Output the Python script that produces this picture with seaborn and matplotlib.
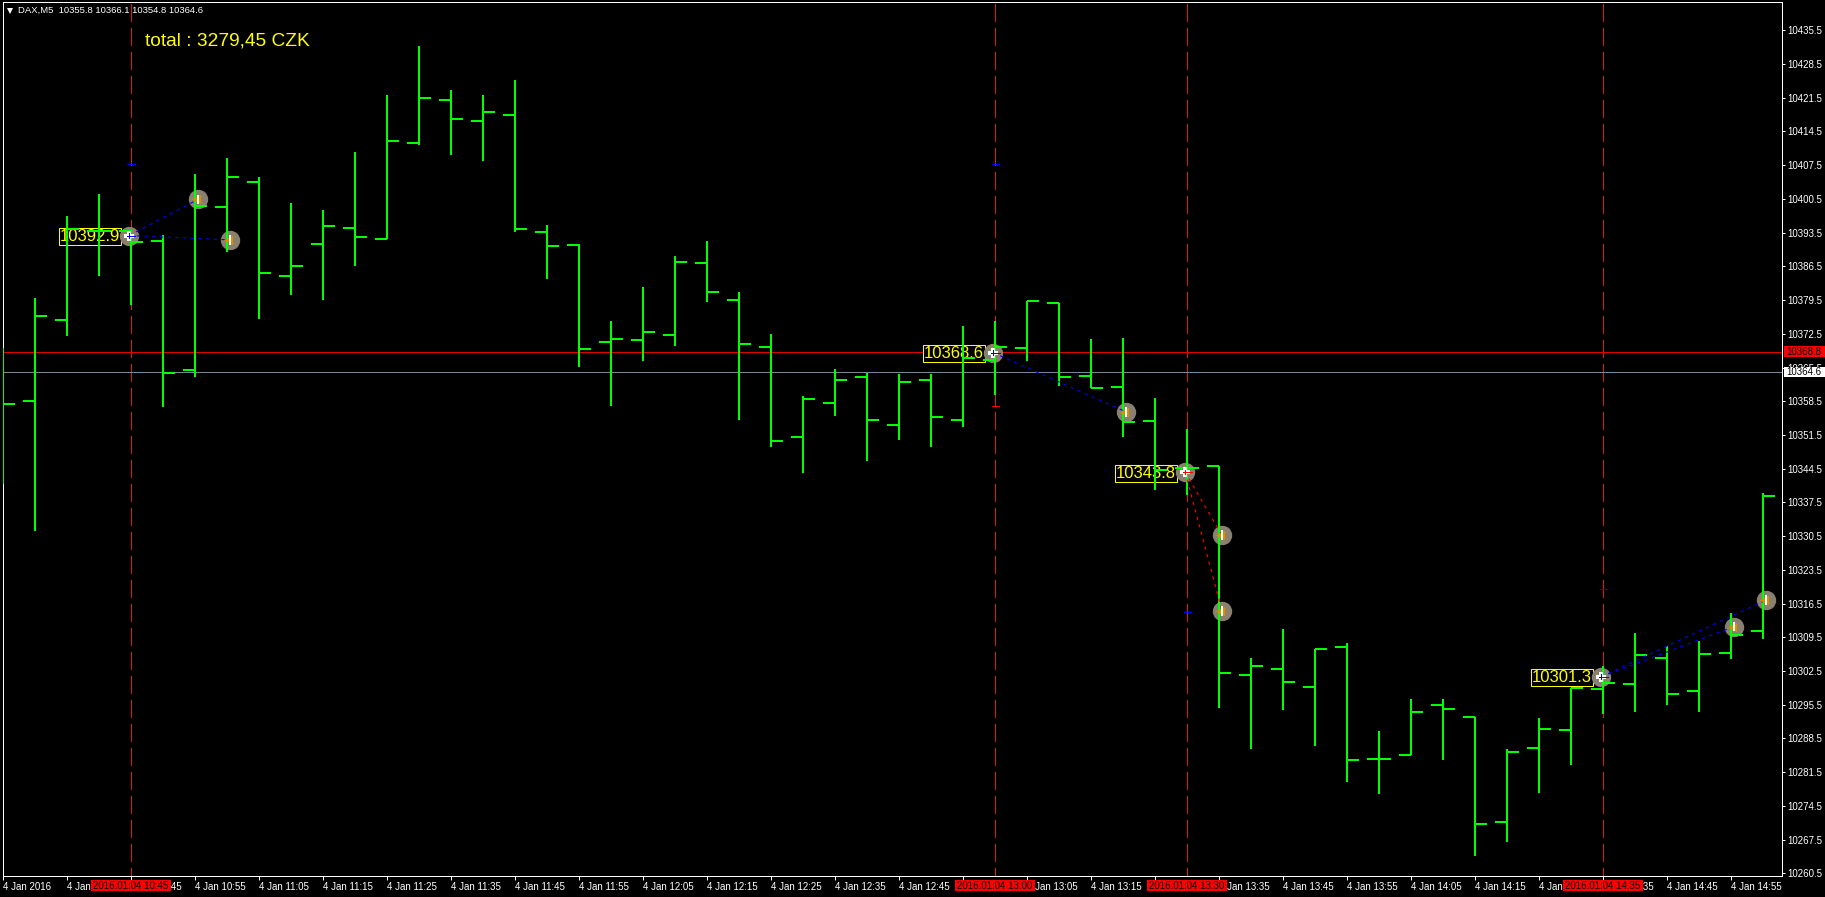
#!/usr/bin/env python
import warnings
warnings.simplefilter(action='ignore')
import pandas as pd
import seaborn as sns
from matplotlib import pyplot as plt
from matplotlib.patches import Rectangle

# five minute bars, 10:25 to 15:00
opens = [10358.0, 10358.5, 10375.4, 10393.8, 10393.9, 10391.8, 10365.0, 10398.8, 10404.0, 10384.4,
         10391.1, 10394.5, 10392.2, 10412.1, 10421.0, 10416.7, 10417.9, 10393.6, 10390.9, 10370.7,
         10371.2, 10372.3, 10387.1, 10379.5, 10369.8, 10351.1, 10358.1, 10363.5, 10353.6, 10362.9,
         10354.6, 10367.1, 10369.6, 10378.8, 10363.8, 10361.5, 10354.4, 10344.6, 10345.0, 10301.7,
         10302.9, 10299.2, 10307.5, 10284.2, 10285.1, 10295.4, 10293.0, 10271.2, 10286.6, 10290.3,
         10298.8, 10299.8, 10305.2, 10298.4, 10306.3, 10310.9]
highs = [10369.6, 10379.9, 10396.9, 10401.5, 10394.0, 10393.0, 10405.7, 10409.1, 10405.1, 10399.7,
         10398.2, 10410.2, 10422.0, 10432.2, 10423.1, 10422.1, 10425.2, 10395.1, 10391.1, 10375.2,
         10382.2, 10388.6, 10391.7, 10381.1, 10372.4, 10359.5, 10365.1, 10364.4, 10364.1, 10364.1,
         10374.1, 10375.2, 10379.4, 10378.8, 10371.4, 10371.6, 10359.1, 10352.7, 10345.0, 10305.1,
         10311.2, 10307.1, 10308.3, 10290.0, 10296.6, 10296.6, 10293.0, 10286.4, 10292.7, 10299.0,
         10303.5, 10310.3, 10307.7, 10308.7, 10314.5, 10339.4]
lows = [10341.3, 10331.6, 10372.0, 10384.6, 10378.5, 10357.4, 10363.6, 10389.5, 10375.6, 10380.6,
        10379.6, 10386.6, 10392.2, 10411.6, 10409.6, 10408.4, 10393.6, 10383.9, 10365.7, 10357.6,
        10366.9, 10370.0, 10379.0, 10354.7, 10349.1, 10343.5, 10355.5, 10346.0, 10350.5, 10349.1,
        10353.2, 10359.7, 10366.9, 10361.7, 10361.3, 10351.0, 10340.1, 10339.0, 10294.8, 10286.4,
        10294.5, 10287.0, 10279.5, 10277.0, 10285.1, 10284.1, 10264.1, 10266.9, 10277.2, 10283.0,
        10293.6, 10294.0, 10295.5, 10294.0, 10305.0, 10309.2]
closes = [10358.0, 10376.2, 10394.3, 10393.8, 10391.6, 10364.4, 10399.0, 10405.1, 10385.1, 10386.6,
          10394.9, 10392.6, 10412.5, 10421.5, 10417.1, 10418.5, 10394.3, 10390.7, 10369.3, 10371.5,
          10372.9, 10387.4, 10381.2, 10370.4, 10350.3, 10359.0, 10362.9, 10354.6, 10362.5, 10355.2,
          10367.5, 10369.8, 10379.4, 10363.6, 10361.3, 10354.2, 10344.2, 10344.6, 10302.1, 10303.5,
          10300.3, 10307.1, 10284.0, 10284.2, 10294.0, 10294.7, 10270.7, 10285.7, 10290.5, 10299.0,
          10300.1, 10305.8, 10297.7, 10306.0, 10310.0, 10338.9]

price_ticks = [10260.5, 10267.5, 10274.5, 10281.5, 10288.5, 10295.5, 10302.5, 10309.5, 10316.5, 10323.5,
               10330.5, 10337.5, 10344.5, 10351.5, 10358.5, 10365.5, 10372.5, 10379.5, 10386.5, 10393.5,
               10400.5, 10407.5, 10414.5, 10421.5, 10428.5, 10435.5]
time_ticks = ['4 Jan 2016', '4 Jan 10:35', '4 Jan 10:45', '4 Jan 10:55', '4 Jan 11:05', '4 Jan 11:15',
              '4 Jan 11:25', '4 Jan 11:35', '4 Jan 11:45', '4 Jan 11:55', '4 Jan 12:05', '4 Jan 12:15',
              '4 Jan 12:25', '4 Jan 12:35', '4 Jan 12:45', '4 Jan 12:55', '4 Jan 13:05', '4 Jan 13:15',
              '4 Jan 13:25', '4 Jan 13:35', '4 Jan 13:45', '4 Jan 13:55', '4 Jan 14:05', '4 Jan 14:15',
              '4 Jan 14:25', '4 Jan 14:35', '4 Jan 14:45', '4 Jan 14:55']

# trades
entry_bars = [4, 31, 37, 50]
entry_prices = [10392.9, 10368.6, 10343.8, 10301.3]
entry_names = ['10392.9', '10368.6', '10343.8', '10301.3']
entry_dates = ['2016.01.04 10:45', '2016.01.04 13:00', '2016.01.04 13:30', '2016.01.04 14:35']
entry_sell = [False, False, True, False]
exit_trade = [0, 0, 1, 2, 2, 3, 3]
exit_bars = [6, 7, 35, 38, 38, 54, 55]
exit_prices = [10400.4, 10392.0, 10356.3, 10330.7, 10315.0, 10311.7, 10317.2]
stop_bars = [4, 31, 31, 37, 50]
stop_prices = [10407.8, 10407.8, 10357.5, 10314.7, 10319.5]
stop_sell = [False, False, True, False, False]

bid_price = 10364.6
ask_price = 10368.8
header = 'DAX,M5  10355.8 10366.1 10354.8 10364.6'
total = 'total : 3279,45 CZK'

GREEN = '#00ff00'
SMALL = 7
PX = 0.72  # one pixel in points at dpi 100

sns.set_theme(style='dark', rc={
    'figure.facecolor': 'black', 'axes.facecolor': 'black', 'axes.edgecolor': 'white',
    'axes.linewidth': PX, 'axes.grid': False, 'text.color': 'white',
    'xtick.color': 'white', 'ytick.color': 'white',
    'xtick.bottom': True, 'ytick.right': True, 'ytick.left': False,
})
plt.rcParams['font.family'] = ['Liberation Sans', 'DejaVu Sans']

bars = pd.DataFrame({'bar': range(len(opens)), 'open': opens, 'high': highs, 'low': lows, 'close': closes})
entries = pd.DataFrame({'trade': range(4), 'bar': entry_bars, 'price': entry_prices, 'sell': entry_sell})
exits = pd.DataFrame({'trade': exit_trade, 'bar': exit_bars, 'price': exit_prices})
entries['x'] = entries['bar'] - 0.06
exits['x'] = exits['bar'] + 0.09

fig = plt.figure(figsize=(18.25, 8.97), dpi=100)
ax = fig.add_axes([2.5 / 1825, 1 - 876 / 897, 1779.8 / 1825, 873.5 / 897])

# trade start lines and the two price lines
for b in entry_bars:
    ax.axvline(b, color='#e01a1a', lw=PX, ls=(9.3, (18, 6)), antialiased=False, zorder=1)
ax.axhline(ask_price, color='#e00000', lw=PX, antialiased=False, zorder=1)
ax.axhline(bid_price, color='#778899', lw=PX, antialiased=False, zorder=1)

# price boxes next to the entries
for x, p, name in zip(entries['x'], entries['price'], entry_names):
    ax.annotate(name, (x, p), xytext=(-39, -1), textcoords='offset pixels', ha='center', va='center',
                color='#ffff00', fontsize=12, zorder=2,
                bbox=dict(boxstyle='square,pad=0.06', fc='black', ec='#ffff00', lw=PX))

# circles under the bars
circles = pd.concat([entries[['x', 'price']], exits[['x', 'price']]])
sns.scatterplot(data=circles, x='x', y='price', ax=ax, s=195, color='#8a8070', linewidth=0, zorder=3, legend=False)

# bars
ax.vlines(bars['bar'], bars['low'], bars['high'], color=GREEN, lw=2 * PX, zorder=4)
ax.hlines(bars['open'], bars['bar'] - 0.375, bars['bar'], color=GREEN, lw=2 * PX, zorder=4)
ax.hlines(bars['close'], bars['bar'], bars['bar'] + 0.375, color=GREEN, lw=2 * PX, zorder=4)

# links from entry to exit
rows = []
for n, (t, x, p) in enumerate(zip(exits['trade'], exits['x'], exits['price'])):
    rows.append({'link': n, 'trade': t, 'x': entries['x'][t], 'price': entries['price'][t]})
    rows.append({'link': n, 'trade': t, 'x': x, 'price': p})
links = pd.DataFrame(rows)
for sell, colour in [(False, '#0000ff'), (True, '#ff0000')]:
    part = links[links['trade'].map(lambda t: entry_sell[t]) == sell]
    sns.lineplot(data=part, x='x', y='price', units='link', estimator=None, sort=False, color=colour,
                 lw=1.1 * PX, linestyle=(0, (3, 4)), ax=ax, zorder=5, legend=False)

# small stop marks on the trade lines
stops = pd.DataFrame({'bar': stop_bars, 'price': stop_prices, 'sell': stop_sell})
ax.hlines(stops['price'], stops['bar'] - 0.11, stops['bar'] + 0.11,
          colors=['#ff0000' if s else '#0000ff' for s in stops['sell']], lw=PX, antialiased=False, zorder=5)

# icons on the circles
sns.scatterplot(data=entries, x='x', y='price', ax=ax, marker='P', s=45, color='white', linewidth=0, zorder=6, legend=False)
for sell, colour in [(False, '#0000ff'), (True, '#ff0000')]:
    part = entries[entries['sell'] == sell]
    ax.hlines(part['price'], part['x'] - 0.06, part['x'] + 0.2, color=colour, lw=PX, antialiased=False, zorder=7)
    ax.vlines(part['x'], part['price'] - 0.5, part['price'] + 0.5, color=colour, lw=PX, antialiased=False, zorder=7)
exit_icons = exits.assign(x=exits['x'] - 0.07)
sns.scatterplot(data=exit_icons, x='x', y='price', ax=ax, marker='<', s=45, color='#d89000', linewidth=0, zorder=6, legend=False)
ax.vlines(exits['x'] + 0.01, exits['price'] - 1.0, exits['price'] + 1.0, color='white', lw=1.5 * PX, antialiased=False, zorder=7)

# axes
ax.set_xlim(-0.016, 55.6)
ax.set_ylim(10259.94, 10441.28)
ax.set_xlabel('')
ax.set_ylabel('')
ax.yaxis.tick_right()
ax.set_yticks(price_ticks)
ax.set_yticklabels(['%.1f' % p for p in price_ticks], fontsize=SMALL)
ax.set_xticks(range(0, 56, 2))
ax.set_xticklabels(time_ticks, fontsize=SMALL, ha='left')
ax.tick_params(axis='y', length=2.2, width=PX, pad=1.6, colors='white')
ax.tick_params(axis='x', length=2.9, width=PX, pad=1.6, colors='white')
for s in ax.spines.values():
    s.set_visible(True)
    s.set_color('white')
    s.set_linewidth(PX)

# red date boxes under the time axis
for b, name in zip(entry_bars, entry_dates):
    ax.add_patch(Rectangle((b - 1.25, -15 / 873.5), 2.5, 11.3 / 873.5, transform=ax.get_xaxis_transform(),
                           fc='#ff0000', ec='none', clip_on=False, zorder=8))
    ax.text(b, -9.5 / 873.5, name, transform=ax.get_xaxis_transform(), ha='center', va='center',
            color='black', fontsize=SMALL, clip_on=False, zorder=9)

# price boxes on the right axis
for p, colour in [(ask_price, '#ff0000'), (bid_price, 'white')]:
    ax.add_patch(Rectangle((1 + 1.7 / 1779.8, p - 1.07), 42 / 1779.8, 2.14, transform=ax.get_yaxis_transform(),
                           fc=colour, ec='none', clip_on=False, zorder=8))
    ax.text(1 + 22 / 1779.8, p, '%.1f' % p, transform=ax.get_yaxis_transform(), ha='center', va='center',
            color='black', fontsize=SMALL, clip_on=False, zorder=9)

# header and total
ax.plot([7 / 1779.8], [1 - 8.5 / 873.5], marker='v', ms=5, color='white', mew=0, transform=ax.transAxes, zorder=9)
ax.text(15.5 / 1779.8, 1 - 8.3 / 873.5, header, transform=ax.transAxes, ha='left', va='center',
        color='white', fontsize=6.8, zorder=9)
ax.text(142.5 / 1779.8, 1 - 39 / 873.5, total, transform=ax.transAxes, ha='left', va='center',
        color='#ffff00', fontsize=13.8, zorder=9)

plt.savefig('out.png', dpi=100, facecolor='black')
